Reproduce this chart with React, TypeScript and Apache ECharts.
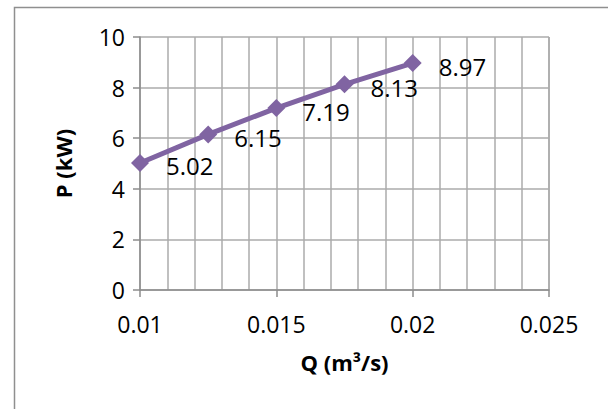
import React, { useEffect, useRef } from "react";
import * as echarts from "echarts";

const flowRates = [0.01, 0.0125, 0.015, 0.0175, 0.02];
const powerKW = [5.02, 6.15, 7.19, 8.13, 8.97];
const xTicks = [0.01, 0.015, 0.02, 0.025];
const yTicks = [0, 2, 4, 6, 8, 10];
const xTitle = "Q (m³/s)";
const yTitle = "P (kW)";

const FONT = "'Open Sans', 'Noto Sans', sans-serif";
const GRID = "#ababab";
const AXIS = "#8c8c8c";

export default function App() {
  const ref = useRef<HTMLDivElement>(null);
  useEffect(() => {
    if (!ref.current) return;
    const chart = echarts.init(ref.current, undefined, { renderer: "svg" });
    const data = flowRates.map((q, i) => [q, powerKW[i]]);
    chart.setOption({
      animation: false,
      backgroundColor: "#ffffff",
      textStyle: { fontFamily: FONT },
      graphic: [
        {
          type: "rect",
          shape: { x: 14.5, y: 7.5, width: 700, height: 500 },
          style: { fill: "none", stroke: "#8f8f8f", lineWidth: 1.5 },
          silent: true,
        },
      ],
      grid: { left: 140, right: 59, top: 37, bottom: 119 },
      xAxis: {
        type: "value",
        min: xTicks[0],
        max: xTicks[xTicks.length - 1],
        interval: xTicks[1] - xTicks[0],
        name: xTitle,
        nameLocation: "middle",
        nameGap: 61,
        nameTextStyle: { fontFamily: FONT, fontSize: 22, fontWeight: "bold", color: "#000" },
        axisLine: { show: true, lineStyle: { color: AXIS, width: 1.5 } },
        axisTick: { show: true, length: 7, inside: false, lineStyle: { color: AXIS, width: 1.5 } },
        axisLabel: {
          fontFamily: FONT,
          fontSize: 23,
          color: "#000",
          margin: 22,
          formatter: (v: number) => String(Number(v.toFixed(4))),
        },
        splitLine: { show: true, lineStyle: { color: GRID, width: 1.5 } },
        minorTick: { show: false, splitNumber: 5 },
        minorSplitLine: { show: true, lineStyle: { color: GRID, width: 1.5 } },
      },
      yAxis: {
        type: "value",
        min: yTicks[0],
        max: yTicks[yTicks.length - 1],
        interval: yTicks[1] - yTicks[0],
        name: yTitle,
        nameLocation: "middle",
        nameGap: 66,
        nameTextStyle: { fontFamily: FONT, fontSize: 22, fontWeight: "bold", color: "#000" },
        axisLine: { show: true, lineStyle: { color: AXIS, width: 1.5 } },
        axisTick: { show: true, length: 7, inside: false, lineStyle: { color: AXIS, width: 1.5 } },
        axisLabel: { fontFamily: FONT, fontSize: 23, color: "#000", margin: 15 },
        splitLine: { show: true, lineStyle: { color: GRID, width: 1.5 } },
      },
      series: [
        {
          type: "line",
          data,
          symbol: "diamond",
          symbolSize: 18,
          lineStyle: { color: "#8064A2", width: 5 },
          itemStyle: { color: "#8064A2" },
          label: {
            show: true,
            position: "right",
            distance: 17,
            offset: [0, 3],
            fontFamily: FONT,
            fontSize: 24,
            color: "#000",
            formatter: (p: any) => (p.value[1] as number).toFixed(2),
          },
        },
      ],
    });
    return () => chart.dispose();
  }, []);
  return (
    <div
      ref={ref}
      style={{ position: "fixed", left: 0, top: 0, width: 608, height: 409 }}
    />
  );
}
